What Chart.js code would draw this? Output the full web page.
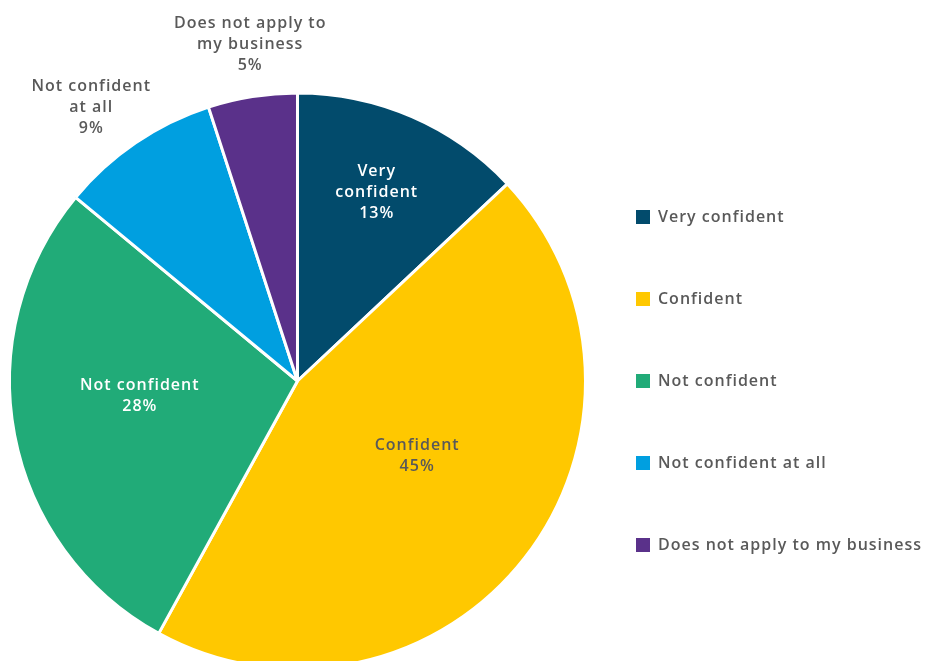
<!DOCTYPE html>
<html>
<head>
<meta charset="utf-8">
<title>Confidence</title>
<script src="https://cdn.jsdelivr.net/npm/chart.js@4.4.1/dist/chart.umd.min.js"></script>
<style>
  html, body { margin: 0; padding: 0; background: #ffffff; overflow: hidden; }
  #wrap { position: relative; width: 925px; height: 762px; }
</style>
</head>
<body>
<div id="wrap"><canvas id="pie"></canvas></div>
<script>
const categories = ["Very confident", "Confident", "Not confident", "Not confident at all", "Does not apply to my business"];
const shares = [13, 45, 28, 9, 5];
// wrapped slice labels as drawn next to / inside the slices
const sliceLabels = [
    ["Very", "confident"],
    ["Confident"],
    ["Not confident"],
    ["Not confident", "at all"],
    ["Does not apply to", "my business"],
];
const sliceColors = ["#024B6C", "#FFC800", "#21AB78", "#009FE0", "#5A318A"];

const FONT = "'Open Sans', sans-serif";
const GREY = "#595959";
const TRACKING = "1px";

// label placement: fraction of the radius, nudge off the slice mid-angle (deg), text colour
const labelRadius = [0.71, 0.49, 0.55, 1.19, 1.18];
const labelNudge = [-0.6, -5.8, 5.4, -2.8, 1];
const labelColor = ["#ffffff", GREY, "#ffffff", GREY, GREY];

// a bit of tracking on all canvas text; set again after any resize resets the context
const trackingPlugin = {
    id: "tracking",
    beforeLayout(chart) { chart.ctx.letterSpacing = TRACKING; },
    beforeDraw(chart) { chart.ctx.letterSpacing = TRACKING; },
};

const sliceLabelPlugin = {
    id: "sliceLabels",
    afterDatasetsDraw(chart) {
        const { ctx } = chart;
        const meta = chart.getDatasetMeta(0);
        ctx.save();
        ctx.font = "600 16px " + FONT;
        ctx.textAlign = "center";
        ctx.textBaseline = "middle";
        meta.data.forEach((arc, i) => {
            const { x, y, startAngle, endAngle, outerRadius } = arc.getProps(["x", "y", "startAngle", "endAngle", "outerRadius"], true);
            const mid = (startAngle + endAngle) / 2 + labelNudge[i] * Math.PI / 180;
            const r = outerRadius * labelRadius[i];
            const cx = x + Math.cos(mid) * r;
            const cy = y + Math.sin(mid) * r;
            const lines = sliceLabels[i].concat([shares[i] + "%"]);
            const lh = 21;
            const top = cy - (lines.length - 1) * lh / 2;
            ctx.fillStyle = labelColor[i];
            lines.forEach((t, k) => ctx.fillText(t, cx, top + k * lh));
        });
        ctx.restore();
    },
};

new Chart(document.getElementById("pie"), {
    type: "pie",
    data: {
        labels: categories,
        datasets: [{
            data: shares,
            backgroundColor: sliceColors,
            borderColor: "#ffffff",
            borderWidth: 3,
            radius: 288,
        }],
    },
    options: {
        responsive: true,
        maintainAspectRatio: false,
        animation: false,
        layout: { padding: { left: 25, right: -7, top: 0, bottom: 0 } },
        plugins: {
            tooltip: { enabled: false },
            legend: {
                position: "right",
                align: "center",
                labels: {
                    boxWidth: 14,
                    boxHeight: 14,
                    padding: 66,
                    color: GREY,
                    font: { family: FONT, size: 16, weight: "600" },
                    generateLabels(chart) {
                        const items = Chart.overrides.pie.plugins.legend.labels.generateLabels(chart);
                        return items.map((it) => ({ ...it, lineWidth: 0, strokeStyle: it.fillStyle }));
                    },
                },
            },
        },
    },
    plugins: [trackingPlugin, sliceLabelPlugin],
});
</script>
</body>
</html>
